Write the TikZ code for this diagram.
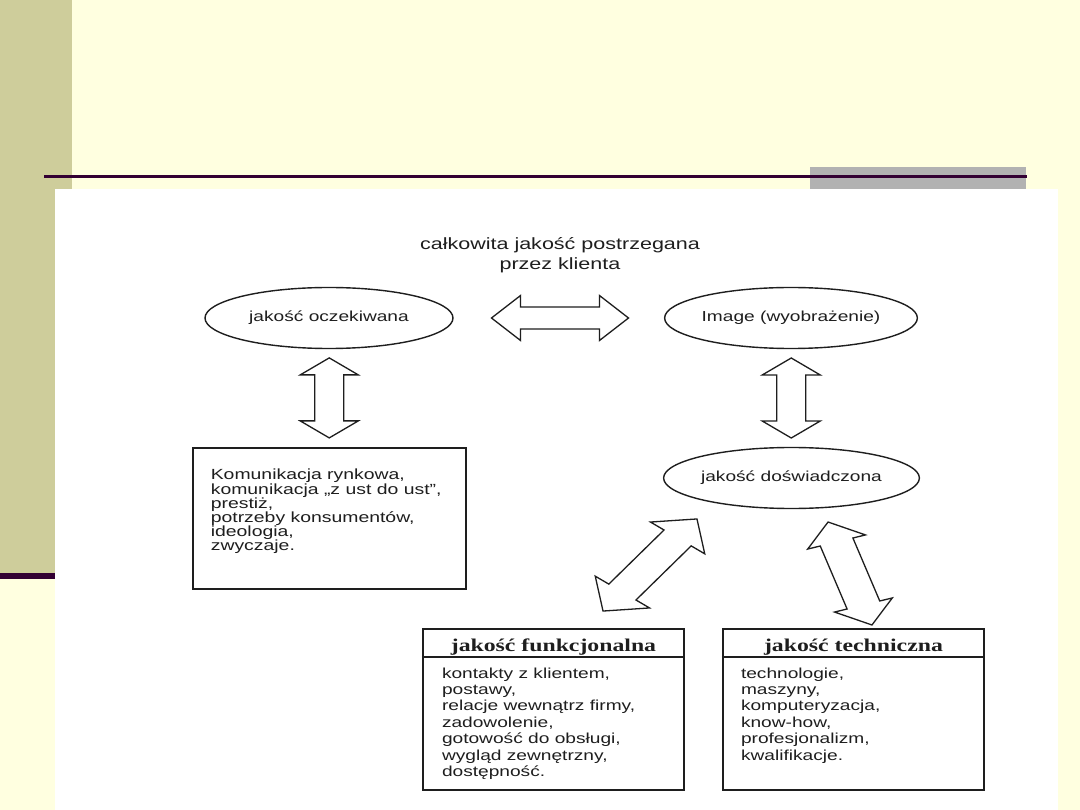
\documentclass[tikz,border=0pt]{standalone}
\usepackage{fontspec}
\setmainfont{Liberation Sans}[FakeStretch=1.32]
\newfontfamily\hdrfont{Liberation Serif}[FakeStretch=1.32]
\usetikzlibrary{shapes.geometric,calc}
\definecolor{bgyellow}{RGB}{255,255,224}
\definecolor{olivestrip}{RGB}{206,205,155}
\definecolor{darkline}{RGB}{51,0,51}
\definecolor{graybar}{RGB}{178,178,178}
\definecolor{ink}{RGB}{30,30,30}
% position, angle, half length, shaft half width, head half width, head length
\newcommand{\blockarrow}[6]{%
  \begin{scope}[shift={#1}, xscale=1.32, rotate=#2]
    \draw[barrow] (-#3,0) -- (-#3+#6,#5) -- (-#3+#6,#4) -- (#3-#6,#4) -- (#3-#6,#5)
      -- (#3,0) -- (#3-#6,-#5) -- (#3-#6,-#4) -- (-#3+#6,-#4) -- (-#3+#6,-#5) -- cycle;
  \end{scope}}
\begin{document}
\begin{tikzpicture}[x=1pt,y=-1pt,
  barrow/.style={draw=ink, line width=1.3pt, fill=white, line join=miter},
  ell/.style={ellipse, draw=ink, line width=1.4pt, minimum width=248pt, minimum height=61pt, inner sep=0pt, text=ink, font=\fontsize{14.5}{16}\selectfont},
  lbox/.style={draw=ink, line width=2.8pt, minimum width=273pt, minimum height=141pt, inner sep=0pt},
  qbox/.style={draw=ink, line width=2.4pt, minimum width=261pt, minimum height=161pt, inner sep=0pt},
  body/.style={inner sep=0pt, anchor=north west, align=left, text=ink, font=\fontsize{14.7}{14.2}\selectfont},
  body2/.style={body, font=\fontsize{14.5}{16.4}\selectfont},
  hdr/.style={inner sep=0pt, anchor=base, text=ink, font=\hdrfont\bfseries\fontsize{18}{20}\selectfont},
  titlestyle/.style={inner sep=0pt, anchor=north, align=center, text=ink, font=\fontsize{16.3}{20}\selectfont}
]
\useasboundingbox (0,0) rectangle (1080,810);
% slide background
\fill[bgyellow] (0,0) rectangle (1080,810);
\fill[olivestrip] (0,0) rectangle (72,573);
\fill[darkline] (0,573) rectangle (55,579);
\fill[white] (55,189) rectangle (1058,810);
\fill[graybar] (810,167) rectangle (1026,189);
\fill[darkline] (44,175) rectangle (1027,178);

% title
\node[titlestyle] (title) at (560,237) {całkowita jakość postrzegana\\przez klienta};

% ellipses
\node[ell] (oczek) at (329,318) {jakość oczekiwana};
\node[ell] (image) at (791,318) {Image (wyobrażenie)};
\node[ell] (dosw) at (791.5,478) {jakość doświadczona};

% left box
\node[lbox] (komm) at (329.5,518.5) {};
\node[body] (kommtxt) at ([xshift=19pt,yshift=-22.5pt]komm.north west)
  {Komunikacja rynkowa,\\komunikacja „z ust do ust”,\\prestiż,\\potrzeby konsumentów,\\ideologia,\\zwyczaje.};

% bottom boxes
\node[qbox] (funk) at (553.5,709.5) {};
\draw[ink, line width=2.4pt] ([yshift=-29pt]funk.north west) -- ([yshift=-29pt]funk.north east);
\node[hdr] (funkhdr) at ([yshift=-24pt]funk.north) {jakość funkcjonalna};
\node[body2] (funktxt) at ([xshift=20pt,yshift=-39.5pt]funk.north west)
  {kontakty z klientem,\\postawy,\\relacje wewnątrz firmy,\\zadowolenie,\\gotowość do obsługi,\\wygląd zewnętrzny,\\dostępność.};

\node[qbox] (tech) at (853.5,709.5) {};
\draw[ink, line width=2.4pt] ([yshift=-29pt]tech.north west) -- ([yshift=-29pt]tech.north east);
\node[hdr] (techhdr) at ([yshift=-24pt]tech.north) {jakość techniczna};
\node[body2] (techtxt) at ([xshift=19pt,yshift=-39.5pt]tech.north west)
  {technologie,\\maszyny,\\komputeryzacja,\\know-how,\\profesjonalizm,\\kwalifikacje.};

% block double arrows
\blockarrow{($(oczek)!0.5!(image)$)}{0}{51.9}{11}{22.5}{22}
\blockarrow{($(oczek.south)!0.5!(komm.north)$)}{90}{40}{11}{22}{17}
\blockarrow{($(image.south)!0.5!(dosw.north)$)}{90}{40}{11}{22}{17}
\blockarrow{(650,565)}{52.3}{58.2}{13}{26}{24}
\blockarrow{(850,573.5)}{-72.1}{54.1}{13}{23}{21}
\end{tikzpicture}
\end{document}
